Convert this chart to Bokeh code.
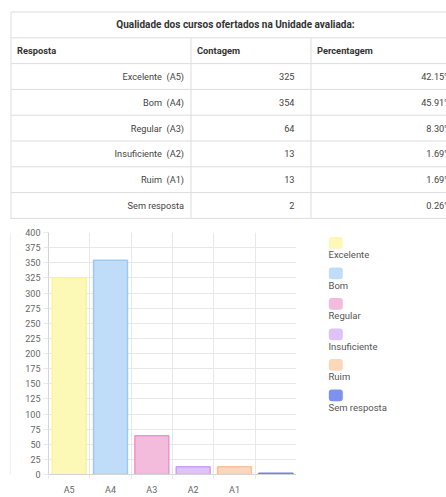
import numpy as np
from bokeh.plotting import figure
from bokeh.models import ColumnDataSource, Range1d, FixedTicker
from bokeh.layouts import column, row
from bokeh.core.properties import value
from bokeh.embed import file_html
from bokeh.resources import INLINE

# ---------------- data ----------------
titulo = "Qualidade dos cursos ofertados na Unidade avaliada:"
cabecalhos = ["Resposta", "Contagem", "Percentagem"]
respostas = ["Excelente \u00a0(A5)", "Bom \u00a0(A4)", "Regular \u00a0(A3)", "Insuficiente \u00a0(A2)", "Ruim \u00a0(A1)", "Sem resposta"]
contagem = [325, 354, 64, 13, 13, 2]
percentagem = ["42.15%", "45.91%", "8.30%", "1.69%", "1.69%", "0.26%"]
categorias = ["A5", "A4", "A3", "A2", "A1", ""]
legenda = ["Excelente", "Bom", "Regular", "Insuficiente", "Ruim", "Sem resposta"]
y_ticks = list(range(0, 401, 25))

fill_colors = ["#fcf9b6", "#bfdcf9", "#f3bcdd", "#dec2f8", "#fbd8b9", "#7d91f0"]
line_colors = ["#fbf39c", "#9ccaf5", "#ee94cb", "#cb9ff5", "#f8c39a", "#6d83ee"]

FONT = value("Roboto")
GRID = "#e8e8e8"
TABLE_LINE = "#dddddd"
TXT = "#444444"

W = 446
TABLE_H = 219
CHART_H = 278

# ---------------- table ----------------
t = figure(width=W, height=TABLE_H, x_range=Range1d(0, W), y_range=Range1d(TABLE_H, 0),
           output_backend="svg", toolbar_location=None, min_border=0,
           x_axis_location=None, y_axis_location=None, outline_line_color=None,
           background_fill_color="white", border_fill_color="white")
t.xgrid.visible = False
t.ygrid.visible = False

left, right = 10.5, 459.5
col_x = [left, 190.5, 310.5, right]
row_h = 25.8
top = 11.5
n_lines = len(respostas) + 3
ys = [top + i * row_h for i in range(n_lines)]

t.segment(x0=[left] * n_lines, x1=[right] * n_lines, y0=ys, y1=ys, line_color=TABLE_LINE, line_width=1)
t.segment(x0=[left, right], x1=[left, right], y0=[ys[0]] * 2, y1=[TABLE_H] * 2, line_color=TABLE_LINE, line_width=1)
t.segment(x0=col_x[1:3], x1=col_x[1:3], y0=[ys[1]] * 2, y1=[ys[-1]] * 2, line_color=TABLE_LINE, line_width=1)

centers = [(ys[i] + ys[i + 1]) / 2 for i in range(n_lines - 1)]

t.text(x=[(left + right) / 2], y=[centers[0]], text=[titulo], text_align="center", text_baseline="middle",
       text_font=FONT, text_font_style="bold", text_font_size="10px", text_color="#333333")
t.text(x=[c + 6 for c in col_x[:3]], y=[centers[1]] * 3, text=cabecalhos, text_align="left",
       text_baseline="middle", text_font=FONT, text_font_style="bold", text_font_size="9.3px", text_color="#333333")

body_y = centers[2:]
src = ColumnDataSource(dict(y=body_y, r=respostas, c=[str(v) for v in contagem], p=percentagem))
t.text(x=col_x[1] - 7, y="y", text="r", source=src, text_align="right", text_baseline="middle",
       text_font=FONT, text_font_size="9.2px", text_color=TXT)
t.text(x=col_x[2] - 16.5, y="y", text="c", source=src, text_align="right", text_baseline="middle",
       text_font=FONT, text_font_size="9.2px", text_color=TXT)
t.text(x=col_x[3] - 9, y="y", text="p", source=src, text_align="right", text_baseline="middle",
       text_font=FONT, text_font_size="9.2px", text_color=TXT)

# ---------------- left border strip ----------------
b = figure(width=11, height=CHART_H, x_range=Range1d(0, 11), y_range=Range1d(0, CHART_H),
           output_backend="svg", toolbar_location=None, min_border=0,
           x_axis_location=None, y_axis_location=None, outline_line_color=None,
           background_fill_color="white", border_fill_color="white")
b.xgrid.visible = False
b.ygrid.visible = False
b.segment(x0=[10.5], x1=[10.5], y0=[0], y1=[CHART_H], line_color=TABLE_LINE, line_width=1)

# ---------------- bar chart ----------------
n = len(categorias)
xs = np.arange(n) + 0.5
c = figure(width=285, height=CHART_H, x_range=Range1d(0, n), y_range=Range1d(0, 400),
           output_backend="svg", toolbar_location=None,
           min_border_left=37, min_border_right=0, min_border_top=13, min_border_bottom=20,
           outline_line_color=None, background_fill_color="white", border_fill_color="white")

c.vbar(x=xs, top=contagem, width=0.82, fill_color=fill_colors, line_color=line_colors, line_width=1.5)

c.yaxis.ticker = FixedTicker(ticks=y_ticks)
c.ygrid.ticker = FixedTicker(ticks=y_ticks)
c.ygrid.grid_line_color = GRID
c.yaxis.axis_line_color = "#d4d4d4"
c.yaxis.major_tick_line_color = GRID
c.yaxis.major_tick_out = 5
c.yaxis.major_tick_in = 0
c.yaxis.minor_tick_line_color = None
c.yaxis.major_label_standoff = 3
c.yaxis.major_label_text_font = "Roboto"
c.yaxis.major_label_text_font_size = "9px"
c.yaxis.major_label_text_color = "#666666"

bounds = list(range(n + 1))
c.xaxis.ticker = FixedTicker(ticks=[float(v) for v in xs[:5]], minor_ticks=bounds)
c.xaxis.major_label_overrides = {float(xs[i]): categorias[i] for i in range(5)}
c.xgrid.ticker = FixedTicker(ticks=bounds)
c.xgrid.grid_line_color = GRID
c.xaxis.axis_line_color = "#d4d4d4"
c.xaxis.major_tick_line_color = None
c.xaxis.major_tick_out = 0
c.xaxis.major_tick_in = 0
c.xaxis.minor_tick_line_color = GRID
c.xaxis.minor_tick_out = 4
c.xaxis.minor_tick_in = 0
c.xaxis.major_label_standoff = 6
c.xaxis.major_label_text_font = "Roboto"
c.xaxis.major_label_text_font_size = "9px"
c.xaxis.major_label_text_color = "#666666"

# ---------------- legend ----------------
lg = figure(width=150, height=CHART_H, x_range=Range1d(0, 150), y_range=Range1d(CHART_H, 0),
            output_backend="svg", toolbar_location=None, min_border=0,
            x_axis_location=None, y_axis_location=None, outline_line_color=None,
            background_fill_color="white", border_fill_color="white")
lg.xgrid.visible = False
lg.ygrid.visible = False
step = 35
ly = [12.0 + i * step for i in range(len(legenda))]
lsrc = ColumnDataSource(dict(y=ly, ty=[v + 13.5 for v in ly], lab=legenda, fc=fill_colors))
try:
    lg.rect(x=39.3, y="y", width=14, height=13.5, fill_color="fc", line_color=None, source=lsrc, border_radius=3)
except Exception:
    lg.rect(x=39.3, y="y", width=14, height=13.5, fill_color="fc", line_color=None, source=lsrc)
lg.text(x=32, y="ty", text="lab", source=lsrc, text_align="left", text_baseline="middle",
        text_font=FONT, text_font_size="9.5px", text_color="#555555")

layout = column(t, row(b, c, lg))
open("out.html", "w").write(file_html(layout, INLINE))
